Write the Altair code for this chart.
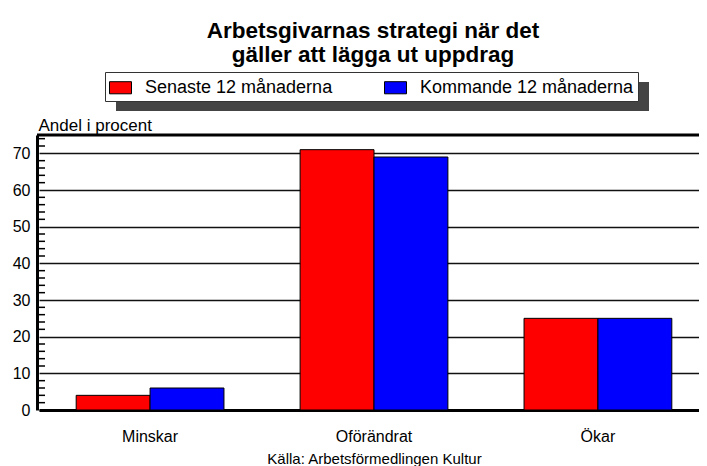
import altair as alt
import pandas as pd

# ---- data ----
categories = ["Minskar", "Oförändrat", "Ökar"]
series = ["Senaste 12 månaderna", "Kommande 12 månaderna"]
senaste = [4, 71, 25]
kommande = [6, 69, 25]
series_colors = ["#ff0000", "#0000ff"]
major_ticks = [0, 10, 20, 30, 40, 50, 60, 70]
minor_ticks = [2, 4, 6, 8, 12, 14, 16, 18, 22, 24, 26, 28, 32, 34, 36, 38,
               42, 44, 46, 48, 52, 54, 56, 58, 62, 64, 66, 68, 72, 74]
y_max = [75]
title_lines = ["Arbetsgivarnas strategi när det", "gäller att lägga ut uppdrag"]
y_title = "Andel i procent"
source_text = "Källa: Arbetsförmedlingen Kultur"

rows = []
for c, a, b in zip(categories, senaste, kommande):
    rows.append({"kategori": c, "serie": series[0], "andel": a})
    rows.append({"kategori": c, "serie": series[1], "andel": b})
df = pd.DataFrame(rows)

FONT = "Liberation Sans"

y_scale = alt.Scale(domain=[0, 75], nice=False, zero=True)
y_axis = alt.Axis(values=major_ticks, title=y_title, titleAngle=0,
                  titleAlign="left", titleX=1, titleY=-5,
                  titleBaseline="alphabetic", titleFontSize=17,
                  titleFontWeight="normal", titleColor="black",
                  labelFontSize=16, labelColor="black", labelPadding=7,
                  ticks=False, domainColor="black", domainWidth=3,
                  grid=True, gridColor="#111111", gridWidth=1.5)

bars = alt.Chart(df).mark_bar(stroke="black", strokeWidth=1).encode(
    x=alt.X(
        "kategori:N", sort=categories,
        scale=alt.Scale(range=[2, 672], paddingInner=0.34, paddingOuter=0.166),
        axis=alt.Axis(title=source_text, labelAngle=0, labelFontSize=16,
                      labelColor="black", ticks=False, domainColor="black",
                      domainWidth=3, labelPadding=18, titleFontSize=15,
                      titleFontWeight="normal", titleColor="black",
                      titlePadding=7),
    ),
    xOffset=alt.XOffset("serie:N", sort=series,
                        scale=alt.Scale(paddingInner=0, paddingOuter=0)),
    y=alt.Y("andel:Q", scale=y_scale, axis=y_axis),
    color=alt.Color(
        "serie:N", sort=series,
        scale=alt.Scale(domain=series, range=series_colors),
        legend=alt.Legend(title=None, orient="none", legendX=68, legendY=-63,
                          direction="horizontal",
                          symbolType="M-1,-0.55H1V0.55H-1Z", symbolSize=484,
                          symbolStrokeColor="black", symbolStrokeWidth=1,
                          labelFontSize=18, labelOffset=13, columnPadding=49,
                          labelLimit=0, padding=4, fillColor="white",
                          strokeColor="#333333", labelColor="black"),
    ),
)

shadow = alt.Chart(pd.DataFrame({"k": [0]})).mark_rect(color="#444444").encode(
    x=alt.value(79), x2=alt.value(612), y=alt.value(-53), y2=alt.value(-24)
)

minor = alt.Chart(pd.DataFrame({"andel": minor_ticks})).mark_rule(
    color="black", strokeWidth=1.5
).encode(y=alt.Y("andel:Q", scale=y_scale, axis=y_axis),
         x=alt.value(0), x2=alt.value(8))

top = alt.Chart(pd.DataFrame({"andel": y_max})).mark_rule(
    color="black", strokeWidth=3
).encode(y=alt.Y("andel:Q", scale=y_scale, axis=y_axis))

chart = alt.layer(shadow, bars, minor, top).properties(
    width=662,
    height=275,
    autosize="none",
    padding={"left": 29, "top": 127, "right": 0, "bottom": 56},
    title=alt.Title(title_lines, fontSize=22.5, fontWeight="bold",
                    anchor="middle", frame="group", color="black",
                    lineHeight=24, font=FONT, offset=6, dx=5, dy=1),
).configure(font=FONT).configure_view(strokeWidth=0)

chart.save("out.html", embed_options={"renderer": "svg", "actions": False})
